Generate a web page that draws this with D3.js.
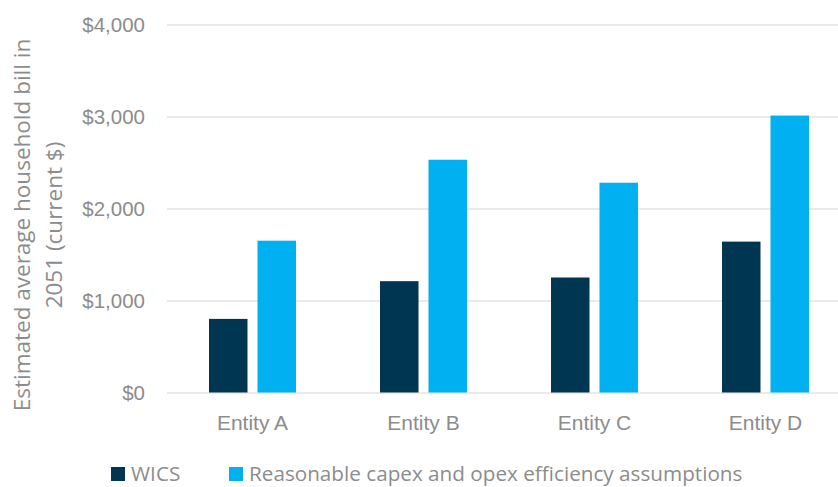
<!DOCTYPE html>
<html>
<head>
<meta charset="utf-8">
<script src="https://cdn.jsdelivr.net/npm/d3@7"></script>
<style>
  html, body { margin: 0; padding: 0; background: #fff; }
  svg { display: block; font-family: "Open Sans", Lato, sans-serif; }
</style>
</head>
<body>
<svg id="chart" width="838" height="487"></svg>
<script>
// data
const categories = ["Entity A", "Entity B", "Entity C", "Entity D"];
const seriesNames = ["WICS", "Reasonable capex and opex efficiency assumptions"];
const wicsValues = [800, 1210, 1250, 1640];
const reasonableValues = [1650, 2530, 2280, 3010];
const yTicks = [0, 1000, 2000, 3000, 4000];

const colors = ["#003651", "#00b0f0"];
const textColor = "#8c8c8c";

const svg = d3.select("#chart");
const margin = { top: 24.5, left: 167, right: -13, bottom: 94.5 };
const width = 838 - margin.left - margin.right;
const height = 487 - margin.top - margin.bottom;

const g = svg.append("g").attr("transform", `translate(${margin.left},${margin.top})`);

const x = d3.scaleBand().domain(categories).range([0, width]);
const y = d3.scaleLinear().domain([0, 4000]).range([height, 0]);

// gridlines
g.append("g")
  .call(d3.axisLeft(y).tickValues(yTicks).tickSize(-width).tickFormat(""))
  .call((s) => s.select(".domain").remove())
  .call((s) => s.selectAll(".tick line").attr("stroke", "#e3e3e3").attr("stroke-width", 1.5));

// y tick labels
g.append("g")
  .call(d3.axisLeft(y).tickValues(yTicks).tickSize(0).tickPadding(22)
    .tickFormat((d) => "$" + d3.format(",")(d)))
  .call((s) => s.select(".domain").remove())
  .call((s) => s.selectAll(".tick text").attr("fill", textColor).attr("font-size", "20.5px"));

// bars
const rows = categories.map((c, i) => ({ cat: c, vals: [wicsValues[i], reasonableValues[i]] }));
const barW = 38.5;
const gap = 10;
const groups = g.selectAll(".grp").data(rows).enter().append("g")
  .attr("transform", (d) => `translate(${x(d.cat) + x.bandwidth() / 2},0)`);

groups.selectAll("rect").data((d) => d.vals).enter().append("rect")
  .attr("x", (d, i) => (i === 0 ? -barW - gap / 2 : gap / 2))
  .attr("y", (d) => y(d))
  .attr("width", barW)
  .attr("height", (d) => y(0) - y(d))
  .attr("fill", (d, i) => colors[i]);

// x labels
g.append("g")
  .attr("transform", `translate(0,${height})`)
  .call(d3.axisBottom(x).tickSize(0).tickPadding(23))
  .call((s) => s.select(".domain").remove())
  .call((s) => s.selectAll(".tick text").attr("fill", textColor).attr("font-size", "21px"));

// y title
const yTitle = svg.append("text")
  .attr("transform", "translate(30,225) rotate(-90)")
  .attr("text-anchor", "middle")
  .attr("fill", textColor)
  .attr("font-size", "22.5px");
yTitle.append("tspan").attr("x", 0).attr("dy", 0).text("Estimated average household bill in");
yTitle.append("tspan").attr("x", 0).attr("dy", 32).text("2051 (current $)");

// legend
const legendX = [111, 229];
const legend = svg.selectAll(".legend").data(seriesNames).enter().append("g")
  .attr("transform", (d, i) => `translate(${legendX[i]},467)`);
legend.append("rect").attr("width", 14).attr("height", 14).attr("fill", (d, i) => colors[i]);
legend.append("text")
  .attr("x", 20).attr("y", 14)
  .attr("fill", textColor)
  .attr("font-size", "20.7px")
  .text((d) => d);
</script>
</body>
</html>
